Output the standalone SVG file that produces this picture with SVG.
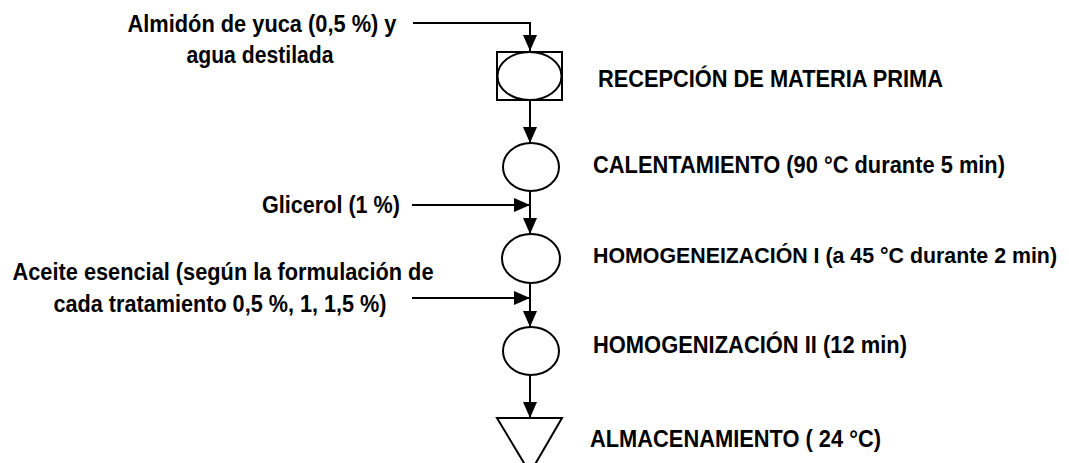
<svg xmlns="http://www.w3.org/2000/svg" width="1069" height="463" viewBox="0 0 1069 463">
<style>
text{font-family:"Liberation Sans",Arial,sans-serif;font-weight:bold;font-size:23px;fill:#000}
.s{fill:#fff;stroke:#000;stroke-width:2}
.c{fill:none;stroke:#000;stroke-width:2}
</style>
<defs>
<marker id="ah" viewBox="0 0 16 14" refX="16" refY="7" markerWidth="16" markerHeight="14" markerUnits="userSpaceOnUse" orient="auto">
<path d="M0,0 L16,7 L0,14 Z" fill="#000"/>
</marker>
</defs>
<rect width="1069" height="463" fill="#fff"/>
<g id="connectors">
<polyline class="c" points="413,23 530,23 530,51" marker-end="url(#ah)"/>
<line class="c" x1="530" y1="100" x2="530" y2="143" marker-end="url(#ah)"/>
<line class="c" x1="530" y1="191" x2="530" y2="234" marker-end="url(#ah)"/>
<line class="c" x1="412" y1="205" x2="530" y2="205" marker-end="url(#ah)"/>
<line class="c" x1="530" y1="283" x2="530" y2="327" marker-end="url(#ah)"/>
<line class="c" x1="412" y1="298" x2="530" y2="298" marker-end="url(#ah)"/>
<line class="c" x1="530" y1="375" x2="530" y2="418" marker-end="url(#ah)"/>
</g>
<g id="in1">
<text x="262" y="32" text-anchor="middle" textLength="269" lengthAdjust="spacingAndGlyphs">Almidón de yuca (0,5 %) y</text>
<text x="260" y="63" text-anchor="middle" textLength="147" lengthAdjust="spacingAndGlyphs">agua destilada</text>
</g>
<g id="in2">
<text x="400" y="213" text-anchor="end" textLength="138" lengthAdjust="spacingAndGlyphs">Glicerol (1 %)</text>
</g>
<g id="in3">
<text x="223" y="280" text-anchor="middle" textLength="421" lengthAdjust="spacingAndGlyphs">Aceite esencial (según la formulación de</text>
<text x="220" y="312" text-anchor="middle" textLength="333" lengthAdjust="spacingAndGlyphs">cada tratamiento 0,5 %, 1, 1,5 %)</text>
</g>
<g id="n1">
<rect class="s" x="497" y="52" width="65" height="48"/>
<ellipse class="s" cx="529.5" cy="76" rx="32" ry="24"/>
<text x="598" y="87" textLength="345" lengthAdjust="spacingAndGlyphs">RECEPCIÓN DE MATERIA PRIMA</text>
</g>
<g id="n2">
<ellipse class="s" cx="531" cy="167" rx="28" ry="24"/>
<text x="593" y="173" textLength="412" lengthAdjust="spacingAndGlyphs">CALENTAMIENTO (90 °C durante 5 min)</text>
</g>
<g id="n3">
<ellipse class="s" cx="531" cy="258.5" rx="29" ry="24.5"/>
<text x="593" y="263" style="font-size:21.5px" textLength="464" lengthAdjust="spacingAndGlyphs">HOMOGENEIZACIÓN I (a 45 °C durante 2 min)</text>
</g>
<g id="n4">
<ellipse class="s" cx="531" cy="351" rx="28" ry="24"/>
<text x="593" y="353" textLength="314" lengthAdjust="spacingAndGlyphs">HOMOGENIZACIÓN II (12 min)</text>
</g>
<g id="n5">
<polygon class="s" points="497,418 562,418 530,473"/>
<text x="590" y="447" textLength="291" lengthAdjust="spacingAndGlyphs">ALMACENAMIENTO ( 24 °C)</text>
</g>
</svg>
